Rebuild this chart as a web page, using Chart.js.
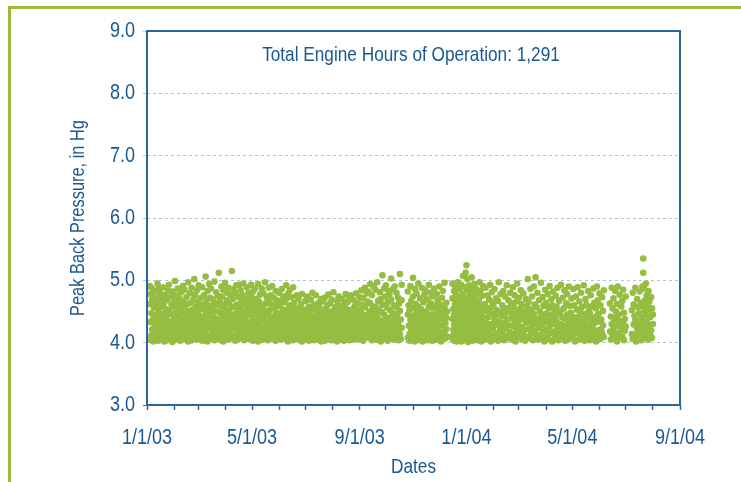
<!DOCTYPE html>
<html>
<head>
<meta charset="utf-8">
<script src="https://cdn.jsdelivr.net/npm/chart.js@4.4.1/dist/chart.umd.min.js"></script>
<style>
  html, body { margin: 0; padding: 0; background: #fff; }
  canvas { display: block; }
</style>
</head>
<body>
<canvas id="pressureChart" width="741" height="482"></canvas>
<script>
// x values are days since 1/1/03
const monthStartDays = [0, 31, 59, 90, 120, 151, 181, 212, 243, 273, 304, 334, 365, 396, 425, 456, 486, 517, 547, 578, 609];
const dateLabels = ['1/1/03', '5/1/03', '9/1/03', '1/1/04', '5/1/04', '9/1/04'];
const pressureRange = [3, 9];
const chartTitle = 'Total Engine Hours of Operation: 1,291';

// first day of each operating period (gaps in between)
const periodStartDays = [3, 298, 349];

// peak back pressure readings (in Hg), one list per day
const period1 = [
  [4.05,4.62,4.91],[4.33,4.78],[4.12,4.47,4.88],[4.21,4.69],[4.02,4.38,4.74],[4.56,4.15],[4.27,4.83,4.09],[4.44,4.61],[4.08,4.35,4.72],[4.19,4.95],
  [4.03,4.51,4.86],[4.29,4.66],[4.14,4.42,4.79],[4.58,4.06],[4.24,4.71,4.37],[4.11,4.89],[4.46,4.18,4.63],[4.31,4.02],[4.54,4.77,4.22],[4.09,4.41],
  [4.36,4.68,4.04],[4.25,4.84],[4.13,4.52,4.93],[4.47,4.07],[4.29,4.74,4.16],[4.61,4.34],[4.01,4.45,4.82],[4.23,4.57],[4.12,4.69,4.38],[4.99,4.28],
  [4.05,4.48,4.76],[4.19,4.63],[4.32,4.87,4.09],[4.55,4.14],[4.27,4.71,4.42],[4.03,4.59],[4.36,4.81,4.17],[4.49,4.24],[4.08,4.66,4.91],[4.33,4.12],
  [4.21,4.58,4.85],[4.44,4.06],[4.15,4.73,4.39],[4.62,4.28],[4.02,4.51,4.97],[4.35,4.19],[4.47,4.79,4.11],[4.26,4.64],[4.04,4.41,4.88],[4.53,4.17],
  [4.32,4.69,4.08],[4.22,5.02],[4.13,4.46,4.77],[4.58,4.31],[4.05,4.37,4.84],[4.65,4.18],[4.27,4.52,4.92],[4.09,4.43],[4.36,4.71,4.14],[4.24,4.60],
  [4.03,4.55,4.89],[4.41,4.16],[4.29,4.76,4.07],[4.62,4.33],[4.12,4.48,5.06],[4.21,4.67],[4.38,4.83,4.02],[4.54,4.25],[4.10,4.45,4.94],[4.30,4.72],
  [4.06,4.59,4.87],[4.43,4.18],[4.26,4.70,4.11],[4.52,4.35],[4.04,4.64,4.98],[4.39,4.20],[4.15,4.50,4.81],[4.61,4.28],[4.08,4.37,4.75],[4.23,5.12],
  [4.34,4.66,4.05],[4.47,4.19],[4.13,4.57,4.90],[4.31,4.74],[4.02,4.42,4.85],[4.60,4.24],[4.17,4.53,4.96],[4.36,4.09],[4.27,4.68,4.44],[4.11,4.80],
  [4.05,4.49,4.88],[4.32,4.63],[4.21,4.77,4.14],[4.56,4.38],[4.07,4.45,5.15],[4.26,4.70],[4.40,4.86,4.12],[4.58,4.23],[4.03,4.34,4.79],[4.47,4.92],
  [4.16,4.61,4.29],[4.52,4.06],[4.35,4.73,4.93],[4.20,4.44],[4.09,4.57,4.84],[4.67,4.30],[4.13,4.41,4.76],[4.25,4.95],[4.04,4.50,4.37],[4.62,4.18],
  [4.28,4.71,4.08],[4.43,4.89],[4.15,4.56,4.33],[4.22,4.80],[4.06,4.46,4.68],[4.59,4.12],[4.31,4.75,4.93],[4.24,4.50],[4.03,4.39,4.82],[4.64,4.19],
  [4.11,4.53,4.86],[4.36,4.07],[4.27,4.70,4.45],[4.58,4.14],[4.02,4.41,4.94],[4.32,4.66],[4.20,4.77,4.09],[4.49,4.26],[4.13,4.60,4.87],[4.38,4.05],
  [4.23,4.54,4.79],[4.44,4.12],[4.07,4.35,4.97],[4.63,4.29],[4.16,4.48,4.73],[4.34,4.04],[4.26,4.69,4.88],[4.52,4.17],[4.09,4.42,4.76],[4.30,4.61],
  [4.14,4.57,4.91],[4.40,4.06],[4.25,4.72,4.33],[4.55,4.19],[4.03,4.46,4.83],[4.36,4.68],[4.18,4.62,4.11],[4.47,4.27],[4.08,4.38,4.80],[4.59,4.21],
  [4.31,4.67,4.05],[4.43,4.86],[4.12,4.53,4.28],[4.24,4.74],[4.06,4.39,4.65],[4.51,4.15],[4.29,4.70,4.92],[4.37,4.10],[4.02,4.45,4.78],[4.56,4.22],
  [4.17,4.60,4.84],[4.33,4.08],[4.26,4.49,4.73],[4.41,4.13],[4.04,4.58,4.89],[4.30,4.64],[4.19,4.44,4.07],[4.53,4.25],[4.11,4.36,4.76],[4.48,4.20],
  [4.05,4.42,4.71],[4.27,4.56],[4.14,4.38,4.09],[4.33,4.62],[4.02,4.47,4.78],[4.21,4.15],[4.36,4.53,4.06],[4.44,4.24],[4.10,4.31,4.67],[4.18,4.50],
  [4.07,4.39,4.74],[4.26,4.12],[4.35,4.58,4.03],[4.20,4.46],[4.13,4.29,4.69],[4.52,4.08],[4.24,4.41,4.80],[4.34,4.16],[4.04,4.37,4.61],[4.28,4.55],
  [4.11,4.43,4.76],[4.32,4.07],[4.19,4.51,4.25],[4.40,4.64],[4.05,4.30,4.57],[4.22,4.14],[4.37,4.70,4.02],[4.48,4.26],[4.09,4.34,4.66],[4.17,4.45],
  [4.03,4.38,4.72],[4.29,4.54],[4.15,4.42,4.10],[4.33,4.60],[4.06,4.25,4.77],[4.47,4.18],[4.21,4.36,4.63],[4.12,4.50],[4.04,4.31,4.69],[4.39,4.23],
  [4.16,4.46,4.81],[4.27,4.08],[4.35,4.57,4.13],[4.22,4.44],[4.02,4.30,4.67],[4.52,4.19],[4.10,4.40,4.74],[4.28,4.05],[4.14,4.37,4.59],[4.24,4.49],
  [4.07,4.33,4.70],[4.41,4.15],[4.20,4.55,4.03],[4.32,4.62],[4.12,4.28,4.78],[4.45,4.09],[4.23,4.38,4.65],[4.17,4.53],[4.04,4.35,4.72],[4.26,4.11],
  [4.13,4.43,4.76],[4.30,4.06],[4.19,4.50,4.24],[4.37,4.68],[4.05,4.27,4.58],[4.46,4.14],[4.21,4.40,4.79],[4.34,4.08],[4.10,4.32,4.63],[4.25,4.52],
  [4.06,4.39,4.73],[4.28,4.12],[4.17,4.48,4.84],[4.35,4.60],[4.03,4.26,4.71],[4.44,4.15],[4.22,4.57,4.88],[4.31,4.09],[4.14,4.42,4.79],[4.27,4.66],
  [4.08,4.36,4.82],[4.50,4.19],[4.25,4.63,4.94],[4.12,4.41],[4.04,4.33,4.76],[4.55,4.21],[4.18,4.47,4.90],[4.30,4.07],[4.11,4.58,4.85],[4.38,4.23],
  [4.05,4.44,4.97],[4.29,4.67],[4.16,4.53,4.13],[4.36,4.81],[4.02,4.24,4.70],[4.49,4.10],[4.20,4.61,5.08],[4.34,4.06],[4.15,4.45,4.87],[4.27,4.74],
  [4.09,4.38,4.92],[4.56,4.18],[4.23,4.65,4.03],[4.40,4.83],[4.12,4.31,4.78],[4.52,4.07],[4.19,4.69,5.03],[4.33,4.14],[4.05,4.47,4.86],[4.26,4.60],
  [4.11,4.42,4.90],[4.35,4.08],[4.21,4.57,4.80],[4.46,4.15],[4.04,4.29,4.72],[4.63,4.20],[4.13,4.51,5.10],[4.37,4.06],[4.24,4.68,4.93]
];

const period2 = [
  [4.08,4.45,4.82],[4.27,4.60],[4.14,4.52,4.03],[4.36,4.91],[4.20,4.67,4.10],[4.43,4.05],[4.31,4.74,5.04],[4.17,4.56],[4.02,4.39,4.86],[4.25,4.62],
  [4.11,4.48,4.79],[4.33,4.07],[4.22,4.58,4.95],[4.40,4.15],[4.04,4.29,4.71],[4.54,4.19],[4.12,4.44,4.88],[4.35,4.02],[4.26,4.65,4.09],[4.47,4.77],
  [4.06,4.32,4.84],[4.50,4.21],[4.16,4.41,4.69],[4.28,4.04],[4.10,4.57,4.93],[4.38,4.13],[4.23,4.63,4.80],[4.45,4.08],[4.03,4.30,4.74],[4.19,4.55],
  [4.09,4.42,4.87],[4.34,4.14],[4.24,4.60,4.05],[4.46,4.78],[4.12,4.31,4.68],[4.53,4.20],[4.07,4.37,4.90],[4.27,4.61],[4.15,4.49,4.02],[4.39,4.72],
  [4.05,4.28,4.83],[4.43,4.11],[4.18,4.56,4.96],[4.32,4.07],[4.22,4.64,4.40],[4.10,4.50]
];

const period3 = [
  [4.06,4.38,4.71,4.95],[4.21,4.54,4.12],[4.03,4.45,4.83,4.29],[4.16,4.62,4.90],[4.08,4.34,4.57,4.77],[4.24,4.49,4.02],[4.13,4.41,4.68,4.97],[4.31,4.56,4.10],[4.05,4.27,4.63,4.86],[4.19,4.47,4.74],
  [4.02,4.35,4.59,4.93],[4.23,4.51,4.14],[4.09,4.44,4.78,5.07],[4.30,4.66,4.17],[4.04,4.26,4.53,4.89],[4.12,4.40,4.72,5.12],[4.07,4.33,4.61,5.24],[4.20,4.48,4.84,5.02],[4.01,4.37,4.69,4.15],[4.25,4.55,4.92],
  [4.10,4.42,4.76,4.28],[4.05,4.60,4.88],[4.18,4.35,4.67,5.05],[4.03,4.50,4.81],[4.14,4.39,4.73,4.22],[4.08,4.57,4.94],[4.26,4.46,4.70],[4.11,4.32,4.86],[4.04,4.53,4.62],[4.19,4.41,4.79],
  [4.07,4.30,4.68],[4.24,4.55,4.97],[4.12,4.44,4.83],[4.02,4.36,4.60],[4.17,4.49,4.75],[4.09,4.27,4.91],[4.21,4.58,4.40],
  [4.13,4.62],[4.35,4.88],[4.05,4.51],[4.27,4.76],[4.41,4.09],[4.18,4.69],[4.56,4.93],[4.02,4.30],[4.47,4.81],[4.22,4.64],
  [4.11,4.58],[4.38,4.86],[4.06,4.44],[4.29,4.71],[4.52,4.15],[4.03,4.67],[4.34,4.97],[4.20,4.49],[4.08,4.78],[4.42,4.25],
  [4.15,4.60],[4.31,4.83],[4.04,4.53],[4.46,4.74],[4.23,4.10],[4.37,4.92],[4.07,4.55],[4.28,4.68],[4.50,4.17],[4.12,4.80],
  [4.39,4.63],[4.05,4.47],[4.26,4.89],[4.14,4.57],[4.33,4.76],[4.02,4.41],[4.21,4.66],[4.48,4.95],[4.09,4.30],[4.36,4.72],
  [4.17,4.54],[4.44,4.84],[4.06,4.62],[4.25,4.38],[4.13,4.79],[4.51,4.20],[4.03,4.45],[4.32,4.70],[4.10,4.58],[4.40,5.02],
  [4.22,4.65],[4.07,4.49],[4.35,4.86],[4.15,4.53],[4.28,4.74],[4.04,4.40],[4.46,4.90],[4.19,4.61],[4.31,5.05],[4.11,4.57],
  [4.38,4.80],[4.05,4.27],[4.24,4.68],[4.13,4.50],[4.42,4.96],[4.08,4.34],[4.29,4.73],[4.18,4.59],[4.02,4.45],[4.36,4.85],
  [4.21,4.64],[4.10,4.47],[4.33,4.78],[4.05,4.56],[4.26,4.91],[4.15,4.39],[4.44,4.70],[4.02,4.60],[4.30,4.82],[4.18,4.52],
  [4.07,4.43],[4.36,4.75],[4.12,4.58],[4.25,4.88],[4.04,4.31],[4.47,4.67],[4.16,4.50],[4.29,4.93],[4.09,4.41],[4.22,4.72],
  [4.13,4.55],[4.38,4.84],[4.03,4.27],[4.20,4.63],[4.45,4.78],[4.11,4.36],[4.06,4.90],[4.31,4.59],[4.17,4.48],[4.24,4.71],
  [4.08,4.42],[4.35,4.86],[4.14,4.60],[4.02,4.30],[4.27,4.74],[4.19,4.53],[4.41,4.89],[4.05,4.38],[4.23,4.66],[4.12,4.49],
  [4.33,4.80],[4.07,4.57],[4.18,4.44],[4.28,4.92],[4.03,4.35],[4.46,4.70],[4.15,4.61],[4.10,4.26],[4.39,4.83],[4.21,4.52],
  [4.04,4.47],[4.30,4.76],[4.13,4.58],[4.25,4.40],[4.08,4.87],[4.36,4.64],[4.17,4.32],[4.02,4.55],[4.43,4.90],[4.20,4.68],
  [4.11,4.46],[4.34,4.79],[4.06,4.60],[4.22,4.37],[4.15,4.73],[4.28,4.51],[4.09,4.84],
  [],[],[],[],[],[],[4.18,4.63],[4.05,4.42],[4.30,4.88],[4.12,4.55],
  [4.24,4.71],[4.07,4.36],[4.40,4.83],[4.16,4.50],[4.02,4.62],[4.27,4.90],[4.13,4.45],[4.35,4.77],[4.08,4.29],[4.21,4.58],
  [4.10,4.67],[4.32,4.85],[4.04,4.48],[4.19,4.38],[4.26,4.74],[],[],[],[],[],
  [],[4.14,4.52],[4.06,4.80],[4.29,4.61],[4.11,4.43],[4.37,4.88],[4.02,4.33],[4.22,4.70],[4.15,4.57],[4.08,4.47],
  [4.26,4.82],[4.12,4.64],[4.04,4.39],[4.31,4.90],[4.18,4.58,5.12,5.35],[4.07,4.50,4.87],[4.23,4.68],[4.10,4.44,4.95],[4.34,4.76],[4.15,4.60],
  [4.05,4.52,4.83],[4.28,4.66],[4.12,4.41],[4.20,4.73],[4.08,4.55],[4.45,4.30]
];

const periods = [period1, period2, period3];
const points = [];
periods.forEach((period, p) => {
  period.forEach((readings, i) => {
    readings.forEach((v) => points.push({ x: periodStartDays[p] + i, y: v }));
  });
});

const textBlue = '#1a5892';
const boxBlue = '#2a679c';
const gridBlue = '#afc2e2';
const dotGreen = '#95bd41';
const frameGreen = '#9dbc3c';
const fontFamily = "'Liberation Sans', Arial, sans-serif";

const canvas = document.getElementById('pressureChart');
const ctx = canvas.getContext('2d');

// no condensed face is installed, so squeeze text horizontally to look like Helvetica Condensed
const condense = 0.82;
const rawFillText = ctx.fillText.bind(ctx);
ctx.fillText = (text, x, y, maxWidth) => {
  ctx.save();
  ctx.translate(x, y);
  ctx.scale(condense, 1);
  if (maxWidth === undefined) rawFillText(text, 0, 0);
  else rawFillText(text, 0, 0, maxWidth / condense);
  ctx.restore();
};

Chart.defaults.font.family = fontFamily;
Chart.defaults.color = textBlue;

const framePlugin = {
  id: 'frame',
  beforeDraw(chart) {
    const c = chart.ctx;
    c.save();
    c.fillStyle = '#ffffff';
    c.fillRect(0, 0, chart.width, chart.height);
    c.fillStyle = frameGreen;
    c.fillRect(8, 6, chart.width - 8, 3);
    c.fillRect(8, 6, 3, chart.height - 6);
    c.restore();
  },
  afterDraw(chart) {
    const c = chart.ctx;
    const area = chart.chartArea;
    c.save();
    c.strokeStyle = boxBlue;
    c.lineWidth = 2;
    c.strokeRect(area.left, area.top, area.right - area.left, area.bottom - area.top);
    c.fillStyle = textBlue;
    c.font = '21px ' + fontFamily;
    c.textAlign = 'center';
    c.textBaseline = 'middle';
    c.fillText(chartTitle, 411, 55);
    c.restore();
  }
};

new Chart(canvas, {
  type: 'scatter',
  data: {
    datasets: [{
      label: 'Peak Back Pressure',
      data: points,
      backgroundColor: dotGreen,
      borderWidth: 0,
      pointRadius: 3.3,
      pointHoverRadius: 3.3
    }]
  },
  options: {
    responsive: false,
    animation: false,
    layout: { padding: { top: 31, right: 61, bottom: 0, left: 0 } },
    plugins: {
      legend: { display: false },
      tooltip: { enabled: false }
    },
    scales: {
      x: {
        type: 'linear',
        min: monthStartDays[0],
        max: monthStartDays[monthStartDays.length - 1],
        afterBuildTicks: (axis) => { axis.ticks = monthStartDays.map((d) => ({ value: d })); },
        afterFit: (axis) => { axis.height = 77; },
        border: { display: false },
        grid: { drawOnChartArea: false, drawTicks: true, tickLength: 5, tickColor: boxBlue, tickWidth: 1.5 },
        ticks: {
          autoSkip: false,
          maxRotation: 0,
          padding: 15,
          font: { size: 22 },
          callback: (value, index) => (index % 4 === 0 ? dateLabels[index / 4] : '')
        },
        title: { display: true, text: 'Dates', font: { size: 21 }, padding: { top: 0, bottom: 2 } }
      },
      y: {
        min: pressureRange[0],
        max: pressureRange[1],
        afterFit: (axis) => { axis.width = 147; },
        border: { display: false, dash: [3, 3] },
        grid: {
          color: (c) => (c.tick && (c.tick.value === 3 || c.tick.value === 9) ? 'rgba(0,0,0,0)' : gridBlue),
          tickColor: (c) => (c.tick && c.tick.value === 3 ? boxBlue : gridBlue),
          tickLength: 4,
          lineWidth: 1
        },
        ticks: {
          stepSize: 1,
          padding: 8,
          font: { size: 22 },
          callback: (v) => v.toFixed(1)
        },
        title: { display: true, text: 'Peak Back Pressure, in Hg', font: { size: 20 }, padding: { top: 66 } }
      }
    }
  },
  plugins: [framePlugin]
});
</script>
</body>
</html>
